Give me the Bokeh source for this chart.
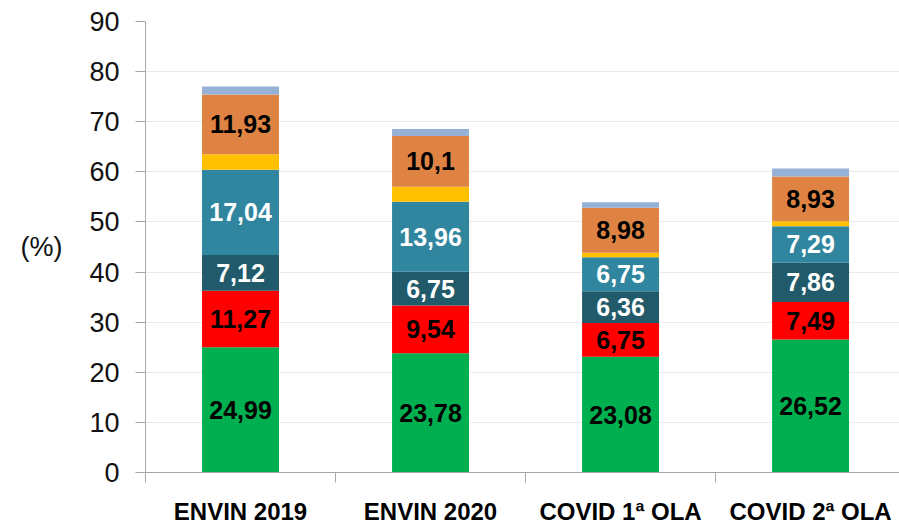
import numpy as np
from bokeh.plotting import figure
from bokeh.models import ColumnDataSource, Range1d, FixedTicker
from bokeh.core.properties import value
from bokeh.embed import file_html
from bokeh.resources import INLINE

categories = ["ENVIN 2019", "ENVIN 2020", "COVID 1ª OLA", "COVID 2ª OLA"]
green = [24.99, 23.78, 23.08, 26.52]
red = [11.27, 9.54, 6.75, 7.49]
dark_teal = [7.12, 6.75, 6.36, 7.86]
teal = [17.04, 13.96, 6.75, 7.29]
yellow = [3.1, 3.0, 0.9, 1.0]
orange = [11.93, 10.1, 8.98, 8.93]
light_blue = [1.6, 1.4, 1.1, 1.6]
y_ticks = [0, 10, 20, 30, 40, 50, 60, 70, 80, 90]

series = [
    (green, "#00B050", "black", True),
    (red, "#FF0000", "black", True),
    (dark_teal, "#215A6A", "white", True),
    (teal, "#31869F", "white", True),
    (yellow, "#FFC000", None, False),
    (orange, "#DE8343", "black", True),
    (light_blue, "#95B1D6", None, False),
]

FONT = "Liberation Sans"

p = figure(width=899, height=527, output_backend="svg", toolbar_location=None,
           x_range=Range1d(0, 3.968), y_range=Range1d(0, 90),
           min_border_left=145, min_border_right=0, min_border_top=21,
           min_border_bottom=55)
p.outline_line_color = None
p.background_fill_color = "white"

xc = np.arange(len(categories)) + 0.5
bottom = np.zeros(len(categories))
for vals, color, tcolor, show in series:
    v = np.array(vals, dtype=float)
    top = bottom + v
    src = ColumnDataSource(dict(x=xc, bottom=bottom.copy(), top=top,
                                mid=(bottom + top) / 2,
                                lbl=[f"{a:g}".replace(".", ",") for a in vals]))
    p.vbar(x="x", width=0.405, bottom="bottom", top="top", source=src,
           fill_color=color, line_color=None)
    if show:
        p.text(x="x", y="mid", text="lbl", source=src, text_align="center",
               text_baseline="middle", text_color=tcolor,
               text_font=value(FONT), text_font_style="bold",
               text_font_size="25px")
    bottom = top

# Y axis
p.yaxis.ticker = FixedTicker(ticks=y_ticks)
p.yaxis.axis_line_color = "#A6A6A6"
p.yaxis.major_tick_line_color = "#A6A6A6"
p.yaxis.major_tick_out = 10
p.yaxis.major_tick_in = 0
p.yaxis.minor_tick_line_color = None
p.yaxis.major_label_standoff = 16
p.yaxis.major_label_text_font = FONT
p.yaxis.major_label_text_font_size = "27px"
p.yaxis.major_label_text_color = "#111111"
p.yaxis.axis_label = "(%)"
p.yaxis.axis_label_orientation = "horizontal"
p.yaxis.axis_label_text_font = FONT
p.yaxis.axis_label_text_font_size = "27px"
p.yaxis.axis_label_text_font_style = "normal"
p.yaxis.axis_label_text_color = "#111111"
p.yaxis.axis_label_standoff = 24

# X axis
p.xaxis.ticker = FixedTicker(ticks=list(xc), minor_ticks=[0, 1, 2, 3])
p.xaxis.major_label_overrides = {float(x): c for x, c in zip(xc, categories)}
p.xaxis.axis_line_color = "#A6A6A6"
p.xaxis.major_tick_line_color = None
p.xaxis.major_tick_out = 0
p.xaxis.major_tick_in = 0
p.xaxis.minor_tick_line_color = "#A6A6A6"
p.xaxis.minor_tick_out = 10
p.xaxis.minor_tick_in = 0
p.xaxis.major_label_standoff = 15
p.xaxis.major_label_text_font = FONT
p.xaxis.major_label_text_font_size = "24px"
p.xaxis.major_label_text_font_style = "bold"
p.xaxis.major_label_text_color = "black"

p.xgrid.grid_line_color = None
p.ygrid.ticker = FixedTicker(ticks=y_ticks)
p.ygrid.grid_line_color = "#EBEBEB"
p.ygrid.grid_line_width = 1

open("out.html", "w").write(file_html(p, INLINE))
